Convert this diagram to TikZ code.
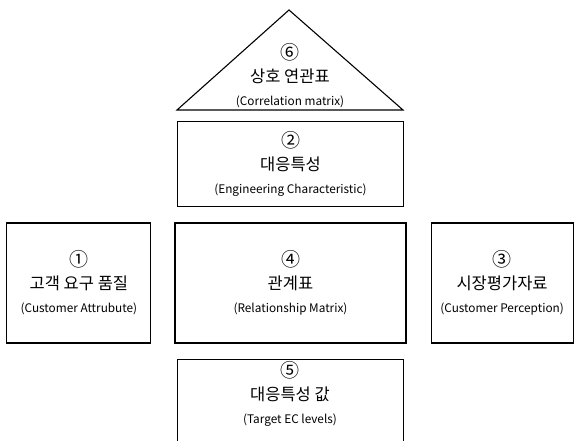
\documentclass[tikz,border=0pt]{standalone}
\usepackage{fontspec}
\setmainfont{Noto Sans CJK KR}
\usetikzlibrary{positioning}
\newcommand{\numtag}[1]{{\fontsize{19}{19}\selectfont #1}}
\newcommand{\kortxt}[1]{{\fontsize{16.5}{16.5}\selectfont #1}}

\begin{document}
\begin{tikzpicture}[x=1pt,y=-1pt,
  every node/.style={font=\fontsize{11.8}{23}\selectfont},
  blk/.style={draw,line width=1.1pt,align=center,inner sep=0pt},
  side/.style={blk,minimum height=120pt}]
\useasboundingbox (0,0) rectangle (576,441);
\node[blk,minimum width=231pt,minimum height=120pt] (rel) at (290.5,283)
  {\numtag{④}\\\kortxt{관계표}\\(Relationship Matrix)};
\node[blk,minimum width=226pt,minimum height=85pt,above=15pt of rel] (eng)
  {\numtag{②}\\\kortxt{대응특성}\\(Engineering Characteristic)};
\node[blk,minimum width=226pt,minimum height=83pt,below=15pt of rel] (tgt) {};
\node[align=center] (tgttxt) at (290,394)
  {\numtag{⑤}\\\kortxt{대응특성 값}\\(Target EC levels)};
\node[side,minimum width=144pt,left=23pt of rel] (cust)
  {\numtag{①}\\\kortxt{고객 요구 품질}\\(Customer Attrubute)};
\node[side,minimum width=142pt,right=24pt of rel] (perc)
  {\numtag{③}\\\kortxt{시장평가자료}\\(Customer Perception)};
% correlation roof
\coordinate (bl) at (177,110);
\coordinate (br) at (403,110);
\coordinate (apex) at (289,10);
\draw[line width=1.1pt] (bl) -- (apex) -- (br) -- cycle;
\node[align=center] (cor) at (290,76)
  {\numtag{⑥}\\\kortxt{상호 연관표}\\(Correlation matrix)};
\end{tikzpicture}
\end{document}
